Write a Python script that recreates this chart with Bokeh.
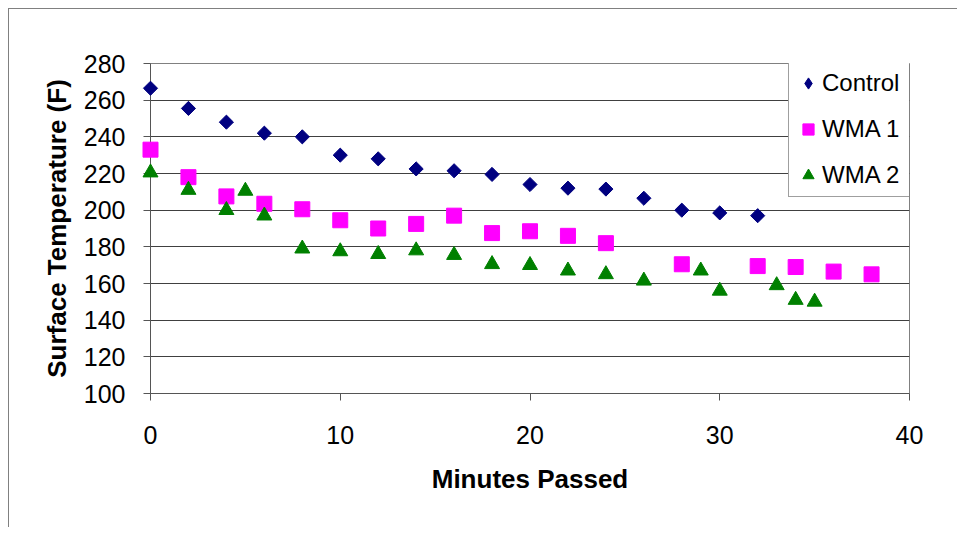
import math
from bokeh.plotting import figure
from bokeh.models import Legend, LegendItem, Range1d, FixedTicker
from bokeh.embed import file_html
from bokeh.resources import INLINE

# ---- data ----
control_x = [0, 2, 4, 6, 8, 10, 12, 14, 16, 18, 20, 22, 24, 26, 28, 30, 32]
control_y = [266.5, 255.5, 248, 242, 240, 230, 228, 222.5, 221.5, 219.5, 214, 212, 211.5, 206.5, 200, 198.5, 197]

wma1_x = [0, 2, 4, 6, 8, 10, 12, 14, 16, 18, 20, 22, 24, 28, 32, 34, 36, 38]
wma1_y = [233, 218, 207.5, 203.5, 200.5, 194.5, 190, 192.5, 197, 187.5, 188.5, 186, 182, 170.5, 169.5, 169, 166.5, 165]

wma2_x = [0, 2, 4, 5, 6, 8, 10, 12, 14, 16, 18, 20, 22, 24, 26, 29, 30, 33, 34, 35]
wma2_y = [220.5, 211, 200, 210.5, 197, 179, 177.5, 176, 178, 175.5, 170.5, 170, 167, 165, 161.5, 167, 156, 159, 151, 150]

x_ticks = [0, 10, 20, 30, 40]
y_ticks = [100, 120, 140, 160, 180, 200, 220, 240, 260, 280]

FONT = "Liberation Sans"

p = figure(
    frame_width=759, frame_height=330,
    min_border_left=150, min_border_right=48, min_border_top=63, min_border_bottom=134,
    x_range=Range1d(0, 40), y_range=Range1d(100, 280),
    output_backend="svg", toolbar_location=None,
    background_fill_color="white", border_fill_color="white", border_fill_alpha=0,
)

# outer chart border (left / top edges visible) drawn as a CSS background
p.styles = {
    "background-color": "white",
    "background-image": "linear-gradient(#808080, #808080), linear-gradient(#808080, #808080)",
    "background-size": "1px 100%, 100% 1px",
    "background-position": "8px 8px, 8px 8px",
    "background-repeat": "no-repeat",
}

p.outline_line_color = "#808080"
p.outline_line_width = 1

# grid
p.xgrid.visible = False
p.ygrid.ticker = FixedTicker(ticks=y_ticks)
p.ygrid.grid_line_color = "#404040"
p.ygrid.grid_line_width = 1

# axes
p.xaxis.ticker = FixedTicker(ticks=x_ticks)
p.yaxis.ticker = FixedTicker(ticks=y_ticks)
for ax in (p.xaxis[0], p.yaxis[0]):
    ax.axis_line_color = "#555555"
    ax.major_tick_line_color = "#555555"
    ax.major_tick_in = 0
    ax.major_tick_out = 7
    ax.minor_tick_line_color = None
    ax.major_label_text_font = FONT
    ax.major_label_text_font_size = "25px"
    ax.major_label_text_color = "black"
    ax.axis_label_text_font = FONT
    ax.axis_label_text_font_size = "26px"
    ax.axis_label_text_font_style = "bold"
    ax.axis_label_text_color = "black"

p.xaxis.axis_label = "Minutes Passed"
p.yaxis.axis_label = "Surface Temperature (F)"
p.xaxis.major_label_standoff = 25
p.xaxis.axis_label_standoff = 17
p.yaxis.major_label_standoff = 18
p.yaxis.axis_label_standoff = 9

r1 = p.scatter(control_x, control_y, marker="square", size=10, angle=math.pi / 4,
               fill_color="#000080", line_color="#000080", level="overlay")
r2 = p.scatter(wma1_x, wma1_y, marker="square", size=15,
               fill_color="#FF00FF", line_color="#FF00FF", level="overlay")
r3 = p.scatter(wma2_x, wma2_y, marker="triangle", size=15,
               fill_color="#008000", line_color="#008000", level="overlay")

# legend proxy for the diamond (legend ignores angle); its only point lies outside the ranges
r1_leg = p.scatter([control_x[0] - 100], [control_y[0] - 1000], marker="diamond", size=10,
                   fill_color="#000080", line_color="#000080")

legend = Legend(
    items=[LegendItem(label="Control", renderers=[r1_leg]),
           LegendItem(label="WMA 1", renderers=[r2]),
           LegendItem(label="WMA 2", renderers=[r3])],
    location=(638, 196),
    label_text_font=FONT, label_text_font_size="24px", label_text_color="black",
    border_line_color="#404040", border_line_width=1,
    background_fill_color="white", background_fill_alpha=1,
    padding=5, spacing=14, label_height=32, label_width=88,
    glyph_height=32, glyph_width=28,
    label_standoff=0, margin=0,
)
p.add_layout(legend, "center")

open("out.html", "w").write(file_html(p, INLINE))
